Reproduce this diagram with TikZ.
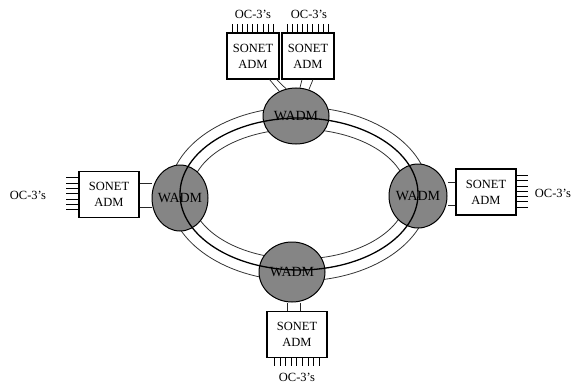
\documentclass[tikz,border=0pt]{standalone}
\usepackage{fontspec}
\setmainfont{Liberation Serif}
\usetikzlibrary{shapes.geometric}
\begin{document}
\begin{tikzpicture}[x=1pt,y=-1pt,
  adm/.style={draw, line width=1.1pt, fill=white, minimum width=60pt,
    minimum height=46pt, align=center, inner sep=0pt,
    font=\fontsize{12.5}{16}\selectfont},
  wadm/.style={ellipse, draw, line width=1pt, fill=black!48, inner sep=0pt},
  wadmtext/.style={font=\fontsize{14}{14}\selectfont, inner sep=0pt},
  oclead/.style={line width=1pt},
  link/.style={line width=0.7pt, black!85},
  ringthin/.style={line width=0.8pt, black!80},
  ringmain/.style={line width=1.3pt},
  lbl/.style={font=\fontsize{12.5}{12.5}\selectfont}]
\useasboundingbox (0,0) rectangle (572,385);

% ring centre
\coordinate (ring) at (299,194);

% outer and inner fibres of the ring
\draw[ringthin] (ring) ellipse [x radius=130, y radius=87];
\draw[ringthin] (ring) ellipse [x radius=108, y radius=65];

% SONET add/drop multiplexers
\node[adm, minimum width=52pt] (admTL) at (253,56) {SONET\\ADM};
\node[adm, minimum width=52pt] (admTR) at (308,56) {SONET\\ADM};
\node[adm] (admL) at (109,194.5) {SONET\\ADM};
\node[adm] (admR) at (486,192) {SONET\\ADM};
\node[adm] (admB) at (297,334.5) {SONET\\ADM};

% wavelength add/drop multiplexers (shapes only)
\node[wadm, minimum width=66pt, minimum height=56pt] (wT) at (296,116) {};
\node[wadm, minimum width=56pt, minimum height=66pt] (wL) at (180,198) {};
\node[wadm, minimum width=58pt, minimum height=64pt] (wR) at (418,196) {};
\node[wadm, minimum width=66pt, minimum height=60pt] (wB) at (292,272) {};

% tributary links between SONET ADMs and WADMs
\draw[link] ([xshift=-10pt]admTL.south east) -- (wT.124);
\draw[link] ([xshift=-3pt]admTL.south east) -- (wT.110);
\draw[link] ([xshift=-6pt]admTR.south) -- (wT.82);
\draw[link] ([xshift=5pt]admTR.south) -- (wT.64);
\draw[link] ([yshift=11.5pt]admL.east) -- ([yshift=11.5pt]admL.east -| wL.west);
\draw[link] ([yshift=-12.5pt]admL.east) -- ([yshift=-12.5pt]admL.east -| wL.west);
\draw[link] ([yshift=10pt]admR.west) -- ([yshift=10pt]admR.west -| wR.east);
\draw[link] ([yshift=-13pt]admR.west) -- ([yshift=-13pt]admR.west -| wR.east);
\draw[link] ([xshift=-10pt]admB.north) -- ([xshift=-10pt]admB.north |- wB.south);
\draw[link] ([xshift=3pt]admB.north) -- ([xshift=3pt]admB.north |- wB.south);

% main fibre of the ring
\draw[ringmain] (ring) ellipse [x radius=119, y radius=76];

% WADM labels
\node[wadmtext] (wTt) at (wT) {WADM};
\node[wadmtext] (wLt) at (wL) {WADM};
\node[wadmtext] (wRt) at (wR) {WADM};
\node[wadmtext] (wBt) at (wB) {WADM};

% OC-3 tributary leads
\foreach \k in {0,...,8} {
  \draw[oclead] ([xshift={(6+\k*5.1)*1pt}]admTL.north west) -- ++(0,-8);
  \draw[oclead] ([xshift={(6+\k*5.1)*1pt}]admTR.north west) -- ++(0,-8);
  \draw[oclead] ([xshift={(8+\k*5.6)*1pt}]admB.south west) -- ++(0,8);
}
\foreach \k in {0,...,6} {
  \draw[oclead] ([yshift={-(7+\k*5.3)*1pt}]admL.north west) -- ++(-12,0);
  \draw[oclead] ([yshift={-(7+\k*5.3)*1pt}]admR.north east) -- ++(11,0);
}

% OC-3 labels
\node[lbl] (ocTL) at (253,14) {OC-3’s};
\node[lbl] (ocTR) at (309,14) {OC-3’s};
\node[lbl] (ocL) at (28,195) {OC-3’s};
\node[lbl] (ocR) at (553,193) {OC-3’s};
\node[lbl] (ocB) at (297,377) {OC-3’s};
\end{tikzpicture}
\end{document}
